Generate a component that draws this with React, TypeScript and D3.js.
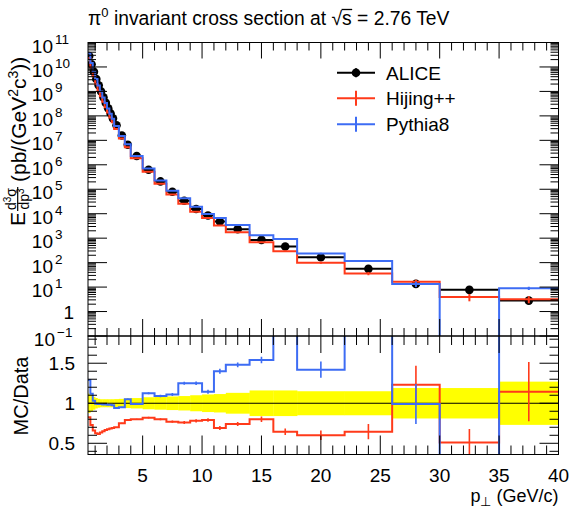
import React, { useEffect, useRef } from 'react';
import * as d3 from 'd3';

// ---------------- data ----------------
const binEdges = [0.4, 0.6, 0.8, 1.0, 1.2, 1.4, 1.6, 1.8, 2.0, 2.2, 2.4, 2.6, 3.0, 3.5, 4.0, 5, 6, 7, 8, 9, 10, 11, 12, 14, 16, 18, 22, 26, 30, 35, 40];
const binCenters = [0.5, 0.7, 0.9, 1.1, 1.3, 1.5, 1.7, 1.9, 2.1, 2.3, 2.5, 2.8, 3.25, 3.75, 4.5, 5.5, 6.5, 7.5, 8.5, 9.5, 10.5, 11.5, 13, 15, 17, 20, 24, 28, 32.5, 37.5];
const aliceXsec = [2.82e10, 1.29e10, 6.3e9, 3.24e9, 1.78e9, 1.0e9, 5.75e8, 3.39e8, 2.04e8, 1.26e8, 7.9e7, 4.12e7, 1.58e7, 6.6e6, 2.29e6, 6.3e5, 2.09e5, 7.9e4, 3.39e4, 1.55e4, 8.5e3, 4.8e3, 2.34e3, 851, 457, 166, 55.6, 13.5, 7.7, 2.8];
const aliceRelUnc = [0.12, 0.10, 0.08, 0.065, 0.055, 0.05, 0.05, 0.05, 0.05, 0.05, 0.05, 0.052, 0.055, 0.06, 0.065, 0.075, 0.08, 0.085, 0.09, 0.10, 0.11, 0.115, 0.13, 0.16, 0.16, 0.15, 0.15, 0.19, 0.19, 0.27];
const hijingRatio = [0.825, 0.73, 0.66, 0.625, 0.615, 0.635, 0.65, 0.665, 0.675, 0.685, 0.69, 0.70, 0.75, 0.79, 0.80, 0.82, 0.80, 0.77, 0.76, 0.78, 0.79, 0.69, 0.74, 0.80, 0.645, 0.60, 0.645, 1.23, 0.51, 1.145];
const hijingRatioErr = [0.004, 0.004, 0.004, 0.004, 0.004, 0.004, 0.004, 0.004, 0.004, 0.004, 0.004, 0.004, 0.006, 0.008, 0.008, 0.01, 0.012, 0.015, 0.018, 0.02, 0.022, 0.025, 0.025, 0.035, 0.04, 0.06, 0.095, 0.24, 0.17, 0.37];
const pythiaRatio = [1.29, 1.12, 1.03, 0.995, 0.99, 0.99, 0.985, 0.985, 0.98, 0.98, 0.975, 0.94, 0.95, 1.05, 0.99, 1.125, 1.09, 1.11, 1.25, 1.25, 1.145, 1.40, 1.48, 1.54, 2.04, 1.42, 2.10, 0.99, 0, 3.2];
const pythiaRatioErr = [0.004, 0.004, 0.004, 0.004, 0.004, 0.004, 0.004, 0.004, 0.004, 0.004, 0.004, 0.004, 0.006, 0.008, 0.01, 0.012, 0.015, 0.018, 0.02, 0.022, 0.025, 0.03, 0.03, 0.04, 0.06, 0.10, 0.12, 0.25, 0, 0.5];
const xTickLabels = [5, 10, 15, 20, 25, 30, 35, 40];
const ratioTickLabels = [0.5, 1, 1.5];
const yExponents = [-1, 0, 1, 2, 3, 4, 5, 6, 7, 8, 9, 10, 11];
const legendNames = ['ALICE', 'Hijing++', 'Pythia8'];

const FONT = "'Liberation Sans', Arimo, Arial, Helvetica, sans-serif";
const RED = '#ff3a1a';
const BLUE = '#3d6cf4';

export default function App() {
  const ref = useRef<SVGSVGElement>(null);
  useEffect(() => {
    const svg = d3.select(ref.current!);
    svg.selectAll('*').remove();
    const L = 88, R = 558.5, T1 = 42.5, B1 = 336, B2 = 454.5;
    const x = d3.scaleLinear().domain([0.4, 40]).range([L, R]);
    const y = d3.scaleLog().domain([0.1, 1e11]).range([B1, T1]);
    const yr = d3.scaleLinear().domain([0.36, 1.84]).range([B2, B1]);
    const yLog = (v: number) => (v > 0 ? Math.max(T1 - 60, Math.min(B1 + 60, y(v))) : B1 + 60);
    const yRat = (v: number) => Math.max(B1 - 60, Math.min(B2 + 60, yr(v)));

    const defs = svg.append('defs');
    defs.append('clipPath').attr('id', 'c1').append('rect').attr('x', L).attr('y', T1).attr('width', R - L).attr('height', B1 - T1);
    defs.append('clipPath').attr('id', 'c2').append('rect').attr('x', L).attr('y', B1).attr('width', R - L).attr('height', B2 - B1);

    const hijing = aliceXsec.map((v, i) => v * hijingRatio[i]);
    const pythia = aliceXsec.map((v, i) => v * pythiaRatio[i]);

    const step = (vals: number[], fy: (v: number) => number) => {
      let d = '';
      vals.forEach((v, i) => {
        const x0 = x(binEdges[i]);
        const x1 = x(binEdges[i + 1]);
        const yy = fy(v);
        d += (i === 0 ? `M${x0},${yy}` : `V${yy}`) + `H${x1}`;
      });
      return d;
    };

    // ---------- top panel ----------
    const g1 = svg.append('g').attr('clip-path', 'url(#c1)');
    binCenters.forEach((c, i) => {
      const v = aliceXsec[i];
      g1.append('line').attr('x1', x(binEdges[i])).attr('x2', x(binEdges[i + 1])).attr('y1', y(v)).attr('y2', y(v))
        .attr('stroke', '#000').attr('stroke-width', 2);
      g1.append('line').attr('x1', x(c)).attr('x2', x(c)).attr('y1', y(v * (1 - aliceRelUnc[i]))).attr('y2', y(v * (1 + aliceRelUnc[i])))
        .attr('stroke', '#000').attr('stroke-width', 2);
      g1.append('circle').attr('cx', x(c)).attr('cy', y(v)).attr('r', 4.3).attr('fill', '#000');
    });
    const mcSets: [number[], number[], number[], string][] = [
      [hijing, hijingRatio, hijingRatioErr, RED],
      [pythia, pythiaRatio, pythiaRatioErr, BLUE],
    ];
    mcSets.forEach(([vals, rat, err, col]) => {
      g1.append('path').attr('d', step(vals, yLog)).attr('fill', 'none').attr('stroke', col).attr('stroke-width', 2);
      vals.forEach((v, i) => {
        if (!(v > 0)) return;
        const rel = err[i] / rat[i];
        g1.append('line').attr('x1', x(binCenters[i])).attr('x2', x(binCenters[i]))
          .attr('y1', yLog(v * (1 - rel))).attr('y2', yLog(v * (1 + rel)))
          .attr('stroke', col).attr('stroke-width', 2);
      });
    });

    // ---------- ratio panel ----------
    const g2 = svg.append('g').attr('clip-path', 'url(#c2)');
    binCenters.forEach((c, i) => {
      g2.append('rect').attr('x', x(binEdges[i])).attr('width', x(binEdges[i + 1]) - x(binEdges[i]) + 0.3)
        .attr('y', yr(1 + aliceRelUnc[i])).attr('height', yr(1 - aliceRelUnc[i]) - yr(1 + aliceRelUnc[i]))
        .attr('fill', '#ffff00');
    });
    g2.append('line').attr('x1', L).attr('x2', R).attr('y1', yr(1)).attr('y2', yr(1)).attr('stroke', '#000').attr('stroke-width', 1);
    mcSets.forEach(([, rat, err, col]) => {
      g2.append('path').attr('d', step(rat, yRat)).attr('fill', 'none').attr('stroke', col).attr('stroke-width', 2);
      rat.forEach((r, i) => {
        if (!(r > 0) || err[i] <= 0) return;
        g2.append('line').attr('x1', x(binCenters[i])).attr('x2', x(binCenters[i]))
          .attr('y1', yRat(r - err[i])).attr('y2', yRat(r + err[i]))
          .attr('stroke', col).attr('stroke-width', 1.6);
      });
    });

    // ---------- ticks ----------
    const tk = svg.append('g').attr('stroke', '#000').attr('stroke-width', 1);
    const tline = (x1: number, y1: number, x2: number, y2: number) =>
      tk.append('line').attr('x1', x1).attr('y1', y1).attr('x2', x2).attr('y2', y2);
    d3.range(1, 41).forEach((t) => {
      const major = t % 5 === 0;
      const xx = x(t);
      tline(xx, T1, xx, T1 + (major ? 16 : 8));
      tline(xx, B1, xx, B1 - (major ? 17 : 8));
      tline(xx, B1, xx, B1 + (major ? 17 : 9));
      tline(xx, B2, xx, B2 - (major ? 19 : 9));
    });
    yExponents.forEach((e) => {
      const base = Math.pow(10, e);
      tline(L, y(base), L + 19, y(base));
      tline(R, y(base), R - 19, y(base));
      if (e < 11) {
        d3.range(2, 10).forEach((k) => {
          const yy = y(k * base);
          tline(L, yy, L + 8, yy);
          tline(R, yy, R - 8, yy);
        });
      }
    });
    d3.range(4, 19).forEach((k) => {
      const v = k / 10;
      const major = k % 5 === 0;
      const yy = yr(v);
      tline(L, yy, L + (major ? 19 : 9), yy);
      tline(R, yy, R - (major ? 19 : 9), yy);
    });

    // frames
    svg.append('rect').attr('x', L).attr('y', T1).attr('width', R - L).attr('height', B1 - T1)
      .attr('fill', 'none').attr('stroke', '#000').attr('stroke-width', 1);
    svg.append('rect').attr('x', L).attr('y', B1).attr('width', R - L).attr('height', B2 - B1)
      .attr('fill', 'none').attr('stroke', '#000').attr('stroke-width', 1);

    // ---------- labels ----------
    const txt = svg.append('g').attr('font-family', FONT).attr('fill', '#000');
    yExponents.forEach((e) => {
      const yy = y(Math.pow(10, e));
      if (e === 0) {
        txt.append('text').attr('x', 74).attr('y', yy + 7).attr('text-anchor', 'end').attr('font-size', 19).text('1');
      } else {
        const baseEnd = e === -1 ? 55 : 53;
        txt.append('text').attr('x', baseEnd).attr('y', yy + 10).attr('text-anchor', 'end').attr('font-size', 19).text('10');
        txt.append('text').attr('x', baseEnd + 2).attr('y', yy + 1).attr('font-size', 13.5).text(e < 0 ? '\u2212' + Math.abs(e) : String(e));
      }
    });
    ratioTickLabels.forEach((v) => {
      txt.append('text').attr('x', 75).attr('y', yr(v) + 7).attr('text-anchor', 'end').attr('font-size', 19).text(String(v));
    });
    xTickLabels.forEach((t) => {
      txt.append('text').attr('x', x(t)).attr('y', 481.5).attr('text-anchor', 'middle').attr('font-size', 19).text(String(t));
    });
    // x title
    const xt = txt.append('text').attr('x', R).attr('y', 502).attr('text-anchor', 'end').attr('font-size', 18);
    xt.append('tspan').text('p');
    xt.append('tspan').attr('dy', 4).attr('font-size', 13).text('\u22A5');
    xt.append('tspan').attr('dy', -4).text(' (GeV/c)');
    // ratio y title
    txt.append('text').attr('transform', `translate(28,396) rotate(-90)`).attr('text-anchor', 'middle').attr('font-size', 20).text('MC/Data');
    // top y title
    const yt = txt.append('g').attr('transform', 'translate(26,226) rotate(-90)');
    yt.append('text').attr('x', 0).attr('y', -1).attr('font-size', 21).text('E');
    const num = yt.append('text').attr('x', 27).attr('y', -10.5).attr('text-anchor', 'middle').attr('font-size', 14);
    num.append('tspan').text('d');
    num.append('tspan').attr('dy', -5).attr('font-size', 10).text('3');
    num.append('tspan').attr('dy', 5).text('\u03C3');
    const den = yt.append('text').attr('x', 27).attr('y', 3).attr('text-anchor', 'middle').attr('font-size', 14);
    den.append('tspan').text('dp');
    den.append('tspan').attr('dy', -5).attr('font-size', 10).text('3');
    yt.append('line').attr('x1', 15).attr('x2', 39).attr('y1', -8.3).attr('y2', -8.3).attr('stroke', '#000').attr('stroke-width', 1.2);
    const ym = yt.append('text').attr('x', 44).attr('y', 0).attr('font-size', 21);
    ym.append('tspan').text('(pb/(GeV');
    ym.append('tspan').attr('dy', -8).attr('font-size', 14).text('2');
    ym.append('tspan').attr('dy', 8).text('c');
    ym.append('tspan').attr('dy', -8).attr('font-size', 14).text('3');
    ym.append('tspan').attr('dy', 8).text('))');

    // title
    const tt = txt.append('text').attr('x', 88).attr('y', 25).attr('font-size', 19.3);
    tt.append('tspan').text('\u03C0');
    tt.append('tspan').attr('dy', -8).attr('font-size', 13).text('0');
    tt.append('tspan').attr('dy', 8).text(' invariant cross section at ');
    const sq = tt.append('tspan').text('\u221A');
    const ss = tt.append('tspan').text('s');
    tt.append('tspan').text(' = 2.76 TeV');
    try {
      const sqNode = sq.node() as SVGTSpanElement;
      const ssNode = ss.node() as SVGTSpanElement;
      const xs0 = sqNode.getEndPositionOfChar(0).x;
      const xs1 = ssNode.getEndPositionOfChar(0).x;
      txt.append('line').attr('x1', xs0 - 0.5).attr('x2', xs1 + 0.5).attr('y1', 25 - 15.5).attr('y2', 25 - 15.5)
        .attr('stroke', '#000').attr('stroke-width', 1.3);
    } catch (e) { /* ignore */ }

    // legend
    const rows = [72.7, 98.3, 124.3];
    const cols = ['#000', RED, BLUE];
    legendNames.forEach((name, i) => {
      const yy = rows[i];
      const lg = svg.append('g');
      lg.append('line').attr('x1', 337).attr('x2', 375).attr('y1', yy).attr('y2', yy).attr('stroke', cols[i]).attr('stroke-width', 2);
      const half = i === 0 ? 4.5 : 7.5;
      lg.append('line').attr('x1', 356).attr('x2', 356).attr('y1', yy - half).attr('y2', yy + half).attr('stroke', cols[i]).attr('stroke-width', 2);
      if (i === 0) lg.append('circle').attr('cx', 356).attr('cy', yy).attr('r', 4.3).attr('fill', '#000');
      lg.append('text').attr('x', 386).attr('y', yy + 7).attr('font-family', FONT).attr('font-size', 19).text(name);
    });
  }, []);
  return (
    <svg ref={ref} width={582} height={514} style={{ position: 'absolute', left: 0, top: 0, background: '#fff' }} />
  );
}
